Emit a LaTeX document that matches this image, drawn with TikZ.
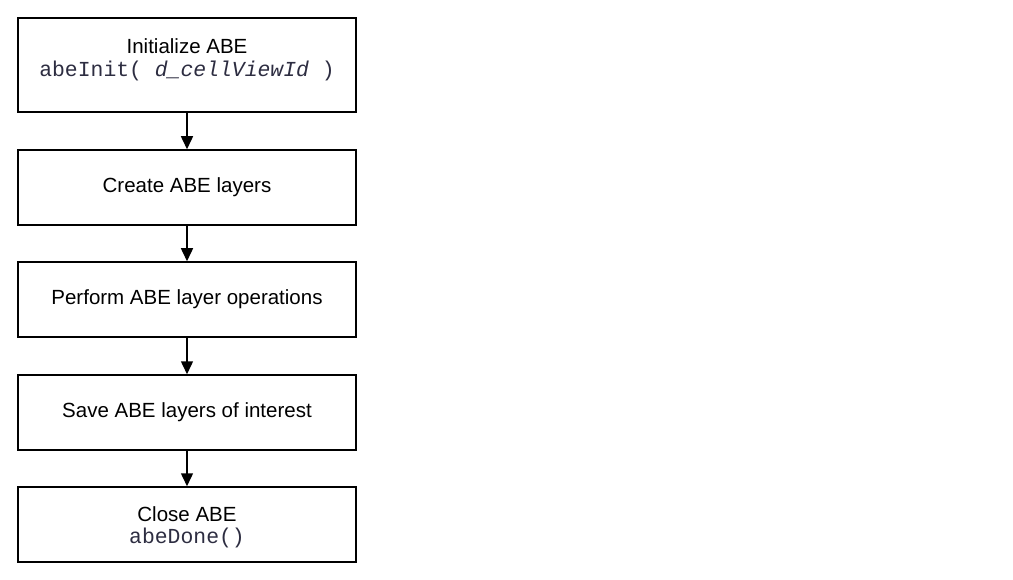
\documentclass[tikz,border=0pt]{standalone}
\usepackage{fontspec}
\setmainfont{Liberation Sans}
\setmonofont{Liberation Mono}
\usetikzlibrary{arrows.meta,positioning}
\definecolor{codeink}{RGB}{45,45,65}
\tikzset{%
  % boxes of the flow
    stepbox/.style = {rectangle, draw=black, line width=1.5pt,
                      minimum width=338pt, minimum height=75pt,
                      inner sep=0pt, align=center,
                      font=\fontsize{20.5}{22.5}\selectfont},
    steptext/.style = {stepbox, draw=none, minimum width=0pt, minimum height=0pt},
    flow/.style = {line width=1.5pt, -{Triangle[length=13pt,width=12pt]}}
}
\newcommand{\abecode}[1]{{\fontsize{21.4}{22.5}\selectfont\ttfamily\color{codeink}#1}}
\begin{document}
\begin{tikzpicture}[x=1pt,y=-1pt]
\useasboundingbox (0,0) rectangle (1013,580);

\node[stepbox, minimum height=94pt] (init) at (187,65) {};
\node[steptext] (initText) at (187,60)
  {Initialize ABE\\\abecode{abeInit( \textit{d\_cellViewId} )}};
\node[stepbox] (create) at (187,187.5) {Create ABE layers};
\node[stepbox] (perform) at (187,299.5) {Perform ABE layer operations};
\node[stepbox] (save) at (187,412.5) {Save ABE layers of interest};
\node[stepbox] (close) at (187,524.5) {};
\node[steptext] (closeText) at (187,527.5) {Close ABE\\\abecode{abeDone()}};

\draw[flow] (init) -- (create);
\draw[flow] (create) -- (perform);
\draw[flow] (perform) -- (save);
\draw[flow] (save) -- (close);

\end{tikzpicture}
\end{document}
